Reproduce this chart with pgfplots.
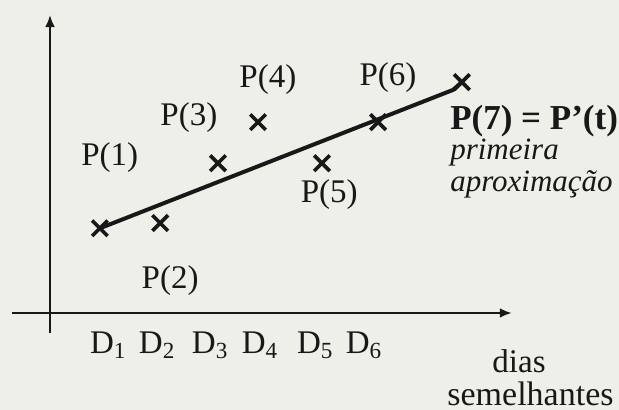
\documentclass[border=0pt]{standalone}
\usepackage{fontspec}
\setmainfont{Liberation Serif}
\usepackage{pgfplots}
\pgfplotsset{compat=1.18}
\usetikzlibrary{arrows.meta}
\definecolor{paper}{RGB}{237,239,232}
\definecolor{ink}{RGB}{24,24,24}

% observed loads P(1)..P(6) over similar days
\pgfplotstableread{
x     y
0.96  1.63
2.12  1.73
3.23  2.88
4.00  3.67
5.23  2.88
6.31  3.67
}\obs

\begin{document}
\fontsize{16.5}{19}\selectfont
\begin{tikzpicture}
\fill[paper, use as bounding box] (-25pt,-48.5pt) rectangle (284.5pt,156.5pt);
\begin{axis}[
    anchor=south west, at={(-18.98pt,-10.01pt)},
    x=26pt, y=26pt,
    xmin=-0.73, xmax=8.88,
    ymin=-0.385, ymax=5.73,
    axis lines=middle,
    axis line style={ink, line width=1.2pt, -{Latex[length=6pt,width=5pt]}},
    xtick={1.12,2.06,3.08,4.04,5.10,6.04},
    xticklabels={D\textsubscript{1},D\textsubscript{2},D\textsubscript{3},D\textsubscript{4},D\textsubscript{5},D\textsubscript{6}},
    ytick=\empty,
    major tick length=0pt,
    xticklabel style={text=ink, yshift=-3.5pt},
    clip=false,
]
% trend line: first approximation, ending at P(7)
\addplot[ink, line width=2pt, no marks] coordinates {(0.96,1.63) (7.75,4.29) (7.92,4.44)};
\addplot[only marks, mark=x, mark size=5.5pt, mark options={ink, line width=1.8pt}] table {\obs};
\addplot[only marks, mark=x, mark size=5.5pt, mark options={ink, line width=1.8pt}] coordinates {(7.92,4.44)};

\node[text=ink] at (axis cs:1.15,2.98) {P(1)};
\node[text=ink] at (axis cs:2.31,0.63) {P(2)};
\node[text=ink] at (axis cs:2.67,3.75) {P(3)};
\node[text=ink] at (axis cs:4.19,4.48) {P(4)};
\node[text=ink] at (axis cs:5.37,2.27) {P(5)};
\node[text=ink] at (axis cs:6.50,4.52) {P(6)};
\node[text=ink, anchor=west, inner sep=0pt, font=\fontsize{17.5}{20}\selectfont\bfseries] at (axis cs:7.69,3.69) {P(7) = P’(t)};
\node[text=ink, anchor=west, inner sep=0pt, font=\fontsize{15.5}{18}\selectfont\itshape] at (axis cs:7.69,3.08) {primeira};
\node[text=ink, anchor=west, inner sep=0pt, font=\fontsize{15.5}{18}\selectfont\itshape] at (axis cs:7.69,2.48) {aproximação};
\node[text=ink, inner sep=0pt] at (axis cs:9.02,-0.92) {dias};
\node[text=ink, inner sep=0pt, font=\fontsize{17}{20}\selectfont] at (axis cs:9.24,-1.55) {semelhantes};
\end{axis}
\end{tikzpicture}
\end{document}
